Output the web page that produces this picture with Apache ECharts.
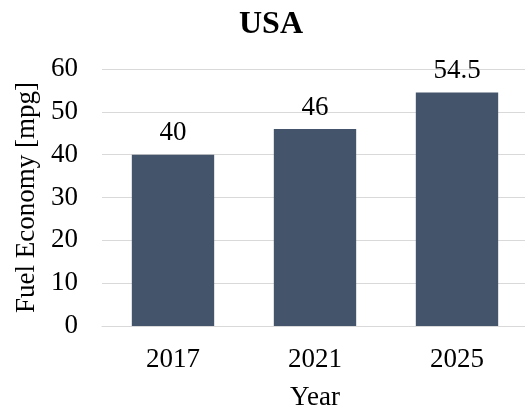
<!DOCTYPE html>
<html>
<head>
<meta charset="utf-8">
<script src="https://cdn.jsdelivr.net/npm/echarts@6/dist/echarts.min.js"></script>
<style>
  html, body { margin: 0; padding: 0; background: #fff; }
  #chart { width: 525px; height: 412px; }
</style>
</head>
<body>
<div id="chart"></div>
<script>
// Fuel economy targets by model year
const years = ['2017', '2021', '2025'];
const fuelEconomy = [40, 46, 54.5];
const yTicks = { min: 0, max: 60, interval: 10 };

const serif = '"Liberation Serif", "Times New Roman", serif';
const chart = echarts.init(document.getElementById('chart'));

chart.setOption({
  animation: false,
  title: {
    text: 'USA',
    left: 234,
    top: 4,
    textStyle: { fontFamily: serif, fontWeight: 'bold', fontSize: 32, color: '#000' }
  },
  grid: { left: 102, right: -3, top: 69, bottom: 86, containLabel: false, outerBoundsMode: 'none' },
  xAxis: {
    type: 'category',
    data: years,
    name: 'Year',
    nameLocation: 'middle',
    nameGap: 58,
    nameTextStyle: { fontFamily: serif, fontSize: 27, color: '#000' },
    axisLine: { show: true, lineStyle: { color: '#d9d9d9', width: 1 } },
    axisTick: { show: false },
    axisLabel: { fontFamily: serif, fontSize: 27, color: '#000', margin: 20 }
  },
  yAxis: {
    type: 'value',
    min: yTicks.min,
    max: yTicks.max,
    interval: yTicks.interval,
    name: 'Fuel Economy [mpg]',
    nameLocation: 'middle',
    nameGap: 62,
    nameTextStyle: { fontFamily: serif, fontSize: 27, color: '#000' },
    axisLine: { show: false },
    axisTick: { show: false },
    axisLabel: { fontFamily: serif, fontSize: 27, color: '#000', margin: 24 },
    splitLine: { lineStyle: { color: '#d9d9d9', width: 1 } }
  },
  series: [{
    type: 'bar',
    data: fuelEconomy,
    barWidth: '58%',
    itemStyle: { color: '#44546A' },
    label: {
      show: true,
      position: 'top',
      distance: 8,
      fontFamily: serif,
      fontSize: 27,
      color: '#000'
    }
  }]
});
</script>
</body>
</html>
